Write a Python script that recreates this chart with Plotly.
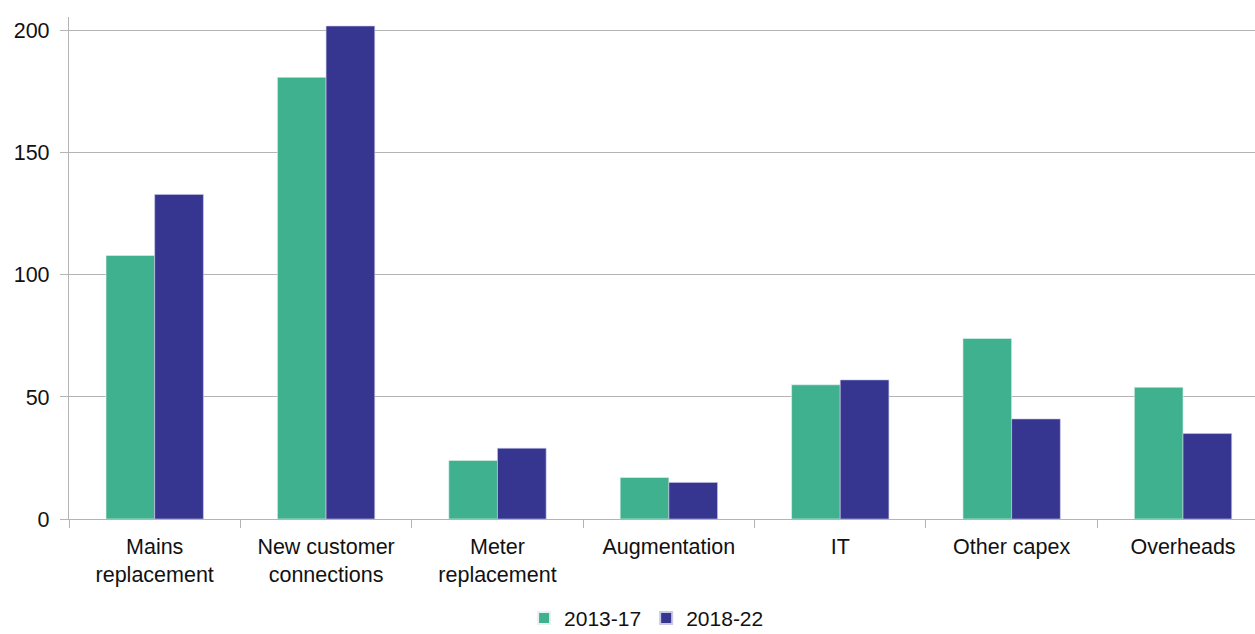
import plotly.graph_objects as go

categories = [
    "Mains<br>replacement",
    "New customer<br>connections",
    "Meter<br>replacement",
    "Augmentation",
    "IT",
    "Other capex",
    "Overheads",
]
series_2013_17 = [108, 181, 24, 17, 55, 74, 54]
series_2018_22 = [133, 202, 29, 15, 57, 41, 35]
y_ticks = [0, 50, 100, 150, 200]

GREEN = "#40B18E"
BLUE = "#363590"
GRID = "#B4B4B4"
FONT = dict(family="Liberation Sans, Arial, sans-serif", size=21.5, color="#111111")

fig = go.Figure()
fig.add_trace(go.Bar(
    x=categories, y=series_2013_17, name="2013-17",
    marker=dict(color=GREEN, line=dict(color="#E6F2EE", width=0.6)),
))
fig.add_trace(go.Bar(
    x=categories, y=series_2018_22, name="2018-22",
    marker=dict(color=BLUE, line=dict(color="#C9C9E6", width=0.6)),
))

fig.update_layout(
    width=1255, height=634,
    margin=dict(l=69, r=0, t=17, b=114.5, autoexpand=False),
    paper_bgcolor="white", plot_bgcolor="white",
    barmode="group", bargap=0.432, bargroupgap=0,
    font=FONT,
    showlegend=True,
    legend=dict(
        orientation="h", x=0.487, xanchor="center", y=-0.198, yanchor="middle",
        font=dict(family=FONT["family"], size=21, color=FONT["color"]),
        itemsizing="constant", traceorder="normal",
        itemwidth=30, tracegroupgap=0, borderwidth=0,
    ),
)
fig.update_xaxes(
    type="category", range=[-0.5, 6.42], automargin=False,
    showline=True, linecolor=GRID, linewidth=1.3,
    ticks="outside", tickson="boundaries", ticklen=8, tickcolor=GRID,
    showgrid=False, tickfont=FONT, ticklabelstandoff=8,
)
fig.update_yaxes(
    range=[0, 205.7], tickvals=y_ticks, automargin=False,
    showline=True, linecolor=GRID, linewidth=1.3,
    ticks="outside", ticklen=8, tickcolor=GRID,
    showgrid=True, gridcolor=GRID, gridwidth=1.3,
    zeroline=False, tickfont=FONT, ticklabelstandoff=6,
)

fig.write_html("out.html")
